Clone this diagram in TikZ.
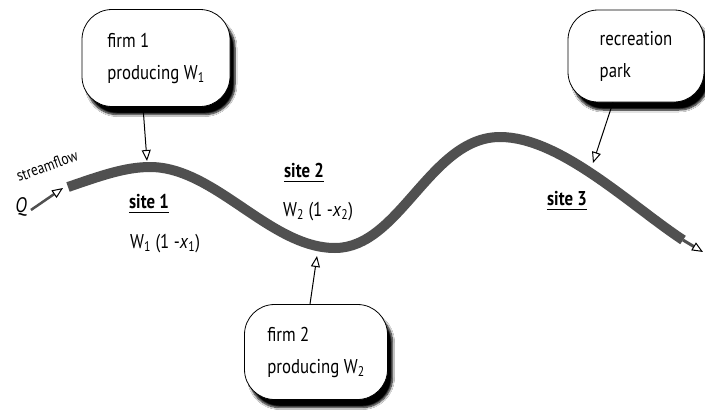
\documentclass[tikz,border=0pt]{standalone}
\usepackage{fontspec}
\setmainfont{PT Sans}[FakeStretch=0.84]
\usetikzlibrary{arrows.meta,shadows.blur}
\definecolor{rivergray}{HTML}{505050}
\begin{document}
\begin{tikzpicture}[x=1pt,y=-1pt,
  bubble/.style={draw=black, line width=0.8pt, fill=white, rounded corners=30pt,
    align=left, font=\fontsize{20}{32}\selectfont,
    blur shadow={shadow xshift=5pt, shadow yshift=-8pt, shadow blur steps=8, shadow opacity=100}},
  river/.style={draw=rivergray, line width=10pt},
  ptr/.style={draw=black, line width=1pt, -{Triangle[open,length=11pt,width=9pt]}},
  sitelbl/.style={anchor=base, inner sep=0pt, font=\fontsize{20}{22}\selectfont\bfseries},
  wlbl/.style={anchor=base west, inner sep=0pt, font=\fontsize{20}{22}\selectfont},
  uline/.style={line width=1.8pt},
]
\fill[white] (0,0) rectangle (705,410);
\useasboundingbox (0,0) rectangle (705,410);

% boxes
\node[bubble, minimum width=148pt, minimum height=97pt] (f1) at (156,58) {firm 1\\producing W\textsubscript{1}};
\node[bubble, minimum width=136pt, minimum height=92pt] (rec) at (636,56) {recreation\\park};
\node[bubble, minimum width=143pt, minimum height=95pt] (f2) at (316,352) {firm 2\\producing W\textsubscript{2}};

% river
\coordinate (rs) at (68,187);
\coordinate (rtop) at (150,167);
\coordinate (rlow) at (335,248);
\coordinate (rpeak) at (500,137);
\coordinate (re) at (683,240);
\coordinate (rtip) at (703,252);
\draw[river] (rs) .. controls (100,176) and (125,167) .. (rtop)
  .. controls (215,167) and (270,248) .. (rlow)
  .. controls (400,248) and (430,137) .. (rpeak)
  .. controls (560,137) and (630,205) .. (re);
\draw[draw=rivergray, line width=3pt, -{Triangle[open,length=11pt,width=9pt,color=black,line width=1pt]}] (re) -- (rtip);

% inflow
\node[inner sep=0pt, font=\fontsize{21}{22}\selectfont\itshape] (q) at (21,207) {Q};
\node[anchor=base, inner sep=0pt, rotate=20, font=\fontsize{16}{17}\selectfont] (sf) at (49,171) {streamflow};
\coordinate (qtip) at (63,188);
\draw[draw=rivergray, line width=2.5pt, -{Triangle[open,length=11pt,width=9pt,color=black,line width=1pt]}] (q.east) ++(4pt,-3pt) coordinate (qs) (qs) -- (qtip);

% arrows from boxes
\coordinate (p1) at (147,161);
\coordinate (p2) at (317,256);
\coordinate (p3) at (593,163);
\draw[ptr] ([xshift=-13pt]f1.south) -- (p1);
\draw[ptr] ([xshift=-6pt]f2.north) -- (p2);
\draw[ptr] ([xshift=-23pt]rec.south) -- (p3);

% site labels
\node[sitelbl] (s1) at (149,208) {site 1};
\node[sitelbl] (s2) at (304,177) {site 2};
\node[sitelbl] (s3) at (567,205) {site 3};
\draw[uline] ([yshift=-4.5pt]s1.base west) -- ([yshift=-4.5pt]s1.base east);
\draw[uline] ([yshift=-4.5pt]s2.base west) -- ([yshift=-4.5pt]s2.base east);
\draw[uline] ([yshift=-4.5pt]s3.base west) -- ([yshift=-4.5pt]s3.base east);

\node[wlbl] (w1) at (130,248) {W\textsubscript{1} (1 -\textit{x}\textsubscript{1})};
\node[wlbl] (w2) at (283,216) {W\textsubscript{2} (1 -\textit{x}\textsubscript{2})};
\end{tikzpicture}
\end{document}
